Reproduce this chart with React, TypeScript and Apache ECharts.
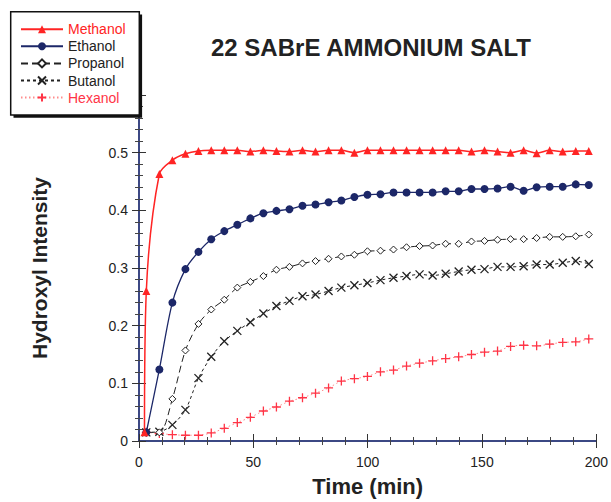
import React, { useEffect, useRef } from "react";
import * as echarts from "echarts";

const times = [3.2, 8.9, 14.6, 20.3, 26.0, 31.6, 37.3, 43.0, 48.7, 54.4, 60.1, 65.8, 71.5, 77.2, 82.9, 88.5, 94.2, 99.9, 105.6, 111.3, 117.0, 122.7, 128.4, 134.1, 139.8, 145.4, 151.1, 156.8, 162.5, 168.2, 173.9, 179.6, 185.3, 191.0, 196.7];

const methanolStart = [2.4, 0.015];
const methanol = [0.26, 0.463, 0.487, 0.498, 0.503, 0.504, 0.504, 0.504, 0.502, 0.504, 0.503, 0.502, 0.504, 0.502, 0.504, 0.504, 0.5, 0.504, 0.504, 0.504, 0.504, 0.504, 0.504, 0.504, 0.504, 0.502, 0.504, 0.502, 0.5, 0.504, 0.499, 0.504, 0.502, 0.503, 0.503];
const ethanol = [0.015, 0.124, 0.24, 0.298, 0.328, 0.35, 0.364, 0.375, 0.386, 0.395, 0.399, 0.402, 0.408, 0.41, 0.414, 0.417, 0.423, 0.427, 0.428, 0.431, 0.431, 0.431, 0.431, 0.433, 0.433, 0.437, 0.437, 0.438, 0.441, 0.434, 0.44, 0.441, 0.441, 0.445, 0.444];
const propanol = [0.015, 0.015, 0.073, 0.157, 0.203, 0.228, 0.245, 0.266, 0.276, 0.286, 0.297, 0.302, 0.308, 0.312, 0.316, 0.32, 0.323, 0.329, 0.33, 0.332, 0.336, 0.338, 0.339, 0.342, 0.342, 0.346, 0.347, 0.349, 0.35, 0.35, 0.352, 0.354, 0.354, 0.355, 0.358];
const butanol = [0.015, 0.016, 0.028, 0.054, 0.109, 0.146, 0.173, 0.191, 0.206, 0.221, 0.234, 0.243, 0.251, 0.254, 0.26, 0.266, 0.27, 0.274, 0.279, 0.283, 0.286, 0.289, 0.287, 0.29, 0.294, 0.297, 0.298, 0.302, 0.302, 0.303, 0.306, 0.306, 0.309, 0.312, 0.307];
const hexanol = [0.015, 0.013, 0.011, 0.01, 0.01, 0.014, 0.022, 0.032, 0.041, 0.052, 0.059, 0.069, 0.075, 0.083, 0.092, 0.104, 0.108, 0.112, 0.12, 0.123, 0.13, 0.135, 0.139, 0.143, 0.146, 0.15, 0.154, 0.156, 0.164, 0.166, 0.165, 0.168, 0.171, 0.172, 0.177];

const seriesNames = ["Methanol", "Ethanol", "Propanol", "Butanol", "Hexanol"];
const titleText = "22 SABrE AMMONIUM SALT";
const xName = "Time (min)";
const yName = "Hydroxyl Intensity";

const FONT = "'Liberation Sans', Arial, Helvetica, sans-serif";
const RED = "#ff2424";
const NAVY = "#1c2768";
const PINK = "#ff3446";
const AXIS = "#2f3d7c";

function pairs(vals: number[]) {
  return vals.map((v, i) => [times[i], v]);
}

export default function App() {
  const ref = useRef<HTMLDivElement>(null);
  useEffect(() => {
    if (!ref.current) return;
    const chart = echarts.init(ref.current, undefined, { renderer: "svg" });
    const axisCommon = {
      axisLine: { show: true, lineStyle: { color: AXIS, width: 1.5 } },
      axisTick: { show: true, inside: true, length: 7, lineStyle: { color: "#333", width: 1 } },
      minorTick: { show: true, splitNumber: 5, length: 4, lineStyle: { color: "#444", width: 1 } },
      splitLine: { show: false },
      minorSplitLine: { show: false },
    };
    const xBase = { type: "value", min: 0, max: 200, interval: 50, ...axisCommon };
    const yBase = { type: "value", min: 0, max: 0.6, interval: 0.1, ...axisCommon };
    chart.setOption({
      animation: false,
      backgroundColor: "#fff",
      textStyle: { fontFamily: FONT },
      grid: { left: 139, right: 12.5, top: 95, bottom: 60, containLabel: false },
      graphic: [
        { type: "rect", z: 10, shape: { x: 13.5, y: 14.5, width: 128.6, height: 103.3 }, style: { fill: "#111" } },
        { type: "rect", z: 11, shape: { x: 10.7, y: 11.7, width: 128.6, height: 103.3 }, style: { fill: "#fff", stroke: "#111", lineWidth: 1.5 } },
        {
          type: "text", z: 11, x: 371, y: 47,
          style: { text: titleText, fontFamily: FONT, fontWeight: "bold", fontSize: 24, fill: "#222", align: "center", verticalAlign: "middle" },
        },
      ],
      legend: {
        z: 20,
        orient: "vertical",
        left: 20,
        top: 22.2,
        itemWidth: 42,
        itemHeight: 10,
        itemGap: 3.1,
        padding: 0,
        selectedMode: false,
        textStyle: { fontFamily: FONT, fontSize: 14, color: "#222" },
        data: [
          { name: "Methanol", textStyle: { color: RED } },
          { name: "Ethanol", textStyle: { color: "#222" } },
          { name: "Propanol", textStyle: { color: "#222" } },
          { name: "Butanol", textStyle: { color: "#222" } },
          { name: "Hexanol", textStyle: { color: PINK } },
        ],
      },
      xAxis: [
        {
          ...xBase,
          position: "bottom",
          name: xName,
          nameLocation: "middle",
          nameGap: 34,
          nameTextStyle: { fontFamily: FONT, fontSize: 22, fontWeight: "bold", color: "#222" },
          axisLabel: { fontFamily: FONT, fontSize: 14, color: "#222", margin: 14 },
        },
        { ...xBase, position: "top", axisLabel: { show: false } },
      ],
      yAxis: [
        {
          ...yBase,
          position: "left",
          name: yName,
          nameLocation: "middle",
          nameGap: 89,
          nameTextStyle: { fontFamily: FONT, fontSize: 21, fontWeight: "bold", color: "#222" },
          axisLabel: {
            fontFamily: FONT, fontSize: 14, color: "#222", margin: 11,
            formatter: (v: number) => (v === 0 ? "0" : v > 0.55 ? "" : v.toFixed(1)),
          },
        },
        { ...yBase, position: "right", axisLabel: { show: false } },
      ],
      series: [
        {
          name: seriesNames[0], type: "line", z: 6,
          data: [methanolStart, ...pairs(methanol)],
          smooth: 0.3,
          symbol: "triangle", symbolSize: 8,
          itemStyle: { color: RED },
          lineStyle: { color: RED, width: 1.5 },
        },
        {
          name: seriesNames[1], type: "line", z: 5,
          data: pairs(ethanol),
          smooth: 0.3,
          symbol: "circle", symbolSize: 8,
          itemStyle: { color: NAVY },
          lineStyle: { color: NAVY, width: 1.3 },
        },
        {
          name: seriesNames[2], type: "line", z: 4,
          data: pairs(propanol),
          smooth: 0.3,
          symbol: "diamond", symbolSize: 7,
          itemStyle: { color: "#fff", borderColor: "#222", borderWidth: 1 },
          lineStyle: { color: "#222", width: 1, type: [7, 4] },
        },
        {
          name: seriesNames[3], type: "line", z: 3,
          data: pairs(butanol),
          smooth: 0.3,
          symbol: "path://M0,0L10,10M10,0L0,10", symbolSize: 8,
          itemStyle: { color: "#222", borderColor: "#222", borderWidth: 1.3 },
          lineStyle: { color: "#222", width: 1, type: [3, 3] },
        },
        {
          name: seriesNames[4], type: "line", z: 2,
          data: pairs(hexanol),
          smooth: 0.3,
          symbol: "path://M5,0L5,10M0,5L10,5", symbolSize: 9,
          itemStyle: { color: PINK, borderColor: PINK, borderWidth: 1.3 },
          lineStyle: { color: "#ff8c8c", width: 1, type: [1.5, 2.5] },
        },
      ],
    });
    return () => chart.dispose();
  }, []);
  return <div ref={ref} style={{ position: "fixed", left: 0, top: 0, width: 611, height: 502 }} />;
}
